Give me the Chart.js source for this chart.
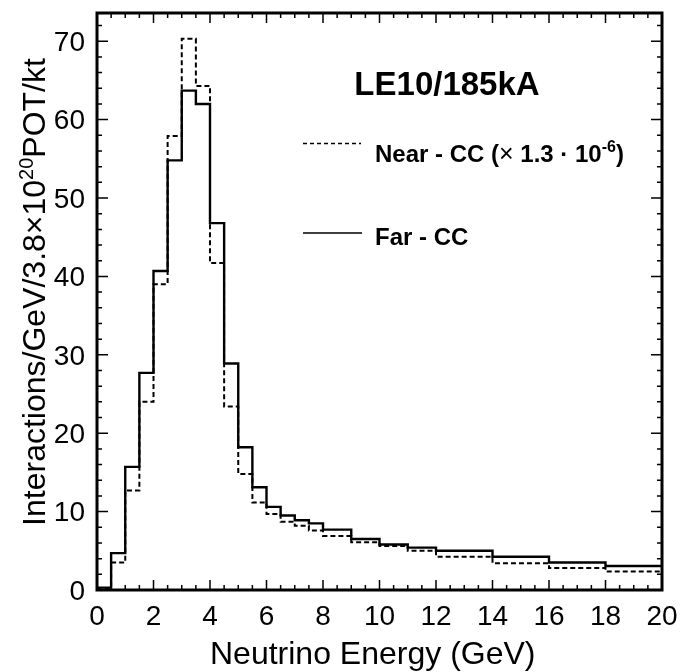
<!DOCTYPE html>
<html>
<head>
<meta charset="utf-8">
<script src="https://cdn.jsdelivr.net/npm/chart.js@4/dist/chart.umd.min.js"></script>
<style>
  body { margin: 0; background: #fff; }
  #wrap { width: 682px; height: 672px; }
</style>
</head>
<body>
<div id="wrap"><canvas id="spec" width="682" height="672"></canvas></div>
<script>
// bin edges in GeV (variable width bins)
const binEdges = [0, 0.5, 1, 1.5, 2, 2.5, 3, 3.5, 4, 4.5, 5, 5.5, 6, 6.5, 7, 7.5, 8, 9, 10, 11, 12, 14, 16, 18, 20];
// interactions per bin
const farCC = [0.3, 4.7, 15.7, 27.7, 40.7, 54.8, 63.7, 62.0, 46.8, 28.9, 18.2, 13.1, 10.6, 9.5, 8.9, 8.5, 7.7, 6.5, 5.8, 5.4, 5.0, 4.25, 3.5, 3.06];
const nearCC = [0.2, 3.5, 12.7, 24.0, 39.0, 57.9, 70.3, 64.3, 41.7, 23.4, 14.8, 11.15, 9.7, 8.7, 8.2, 7.6, 6.9, 6.1, 5.6, 5.0, 4.25, 3.4, 2.8, 2.35];
// axis ticks
const xTickLabels = [0, 2, 4, 6, 8, 10, 12, 14, 16, 18, 20];
const yTickLabels = [0, 10, 20, 30, 40, 50, 60, 70];
const xMinorStep = 0.5;
const yMinorStep = 2;
const yTop = 73.6;

const FONT = '"Liberation Sans", Arial, Helvetica, sans-serif';

// histogram outline: one point on each left edge, plus the last right edge
function toSteps(vals) {
  const pts = vals.map((v, i) => ({ x: binEdges[i], y: v }));
  pts.push({ x: binEdges[binEdges.length - 1], y: vals[vals.length - 1] });
  return pts;
}

// draws text pieces [text, font, yOffset] one after another
function drawPieces(ctx, pieces, x0, y0) {
  let x = x0;
  pieces.forEach(([t, f, dy]) => {
    ctx.font = f;
    ctx.fillText(t, x, y0 + dy);
    x += ctx.measureText(t).width;
  });
  return x - x0;
}
function piecesWidth(ctx, pieces) {
  let w = 0;
  pieces.forEach(([t, f]) => { ctx.font = f; w += ctx.measureText(t).width; });
  return w;
}

const frame = {
  id: "frame",
  afterDraw(chart) {
    const { ctx, chartArea: a, scales: { x, y } } = chart;
    ctx.save();
    ctx.strokeStyle = "#000";
    ctx.fillStyle = "#000";

    // inward ticks on all four sides
    ctx.lineWidth = 1.5;
    ctx.beginPath();
    for (let v = x.min; v <= x.max + 1e-6; v += xMinorStep) {
      const px = x.getPixelForValue(v);
      const len = xTickLabels.includes(Math.round(v * 10) / 10) ? 10 : 5;
      ctx.moveTo(px, a.bottom); ctx.lineTo(px, a.bottom - len);
      ctx.moveTo(px, a.top); ctx.lineTo(px, a.top + len);
    }
    for (let v = 0; v <= yTop; v += yMinorStep) {
      const py = y.getPixelForValue(v);
      const len = yTickLabels.includes(v) ? 11 : 5;
      ctx.moveTo(a.left, py); ctx.lineTo(a.left + len, py);
      ctx.moveTo(a.right, py); ctx.lineTo(a.right - len, py);
    }
    ctx.stroke();

    ctx.lineWidth = 3;
    ctx.strokeRect(a.left, a.top, a.right - a.left, a.bottom - a.top);

    // label in the plot
    ctx.textBaseline = "alphabetic";
    ctx.textAlign = "center";
    ctx.font = "bold 33px " + FONT;
    ctx.fillText("LE10/185kA", 447, 95);

    // legend
    ctx.textAlign = "left";
    ctx.lineWidth = 1.4;
    ctx.setLineDash([4, 3]);
    ctx.beginPath();
    ctx.moveTo(303, 143.5); ctx.lineTo(361, 143.5);
    ctx.stroke();
    ctx.setLineDash([]);
    ctx.lineWidth = 1.6;
    ctx.beginPath();
    ctx.moveTo(303, 233); ctx.lineTo(362, 233);
    ctx.stroke();

    const b24 = "bold 24px " + FONT;
    drawPieces(ctx, [
      ["Near - CC (", b24, 0],
      ["\u00d7", "25px " + FONT, 0],
      [" 1.3 \u00b7 10", b24, 0],
      ["-6", "bold 16px " + FONT, -10],
      [")", b24, 0]
    ], 375, 162);
    ctx.font = b24;
    ctx.fillText("Far - CC", 375, 245);

    // axis titles
    ctx.font = "32px " + FONT;
    ctx.fillText("Neutrino Energy (GeV)", 210, 664);

    const yTitle = [
      ["Interactions/GeV/3.8\u00d710", "32px " + FONT, 0],
      ["20", "20px " + FONT, -12],
      ["POT/kt", "32px " + FONT, 0]
    ];
    ctx.translate(45, 292);
    ctx.rotate(-Math.PI / 2);
    drawPieces(ctx, yTitle, -piecesWidth(ctx, yTitle) / 2, 0);
    ctx.restore();
  }
};

new Chart(document.getElementById("spec"), {
  type: "line",
  data: {
    datasets: [
      {
        label: "Far - CC",
        data: toSteps(farCC),
        stepped: "before",
        borderColor: "#000",
        borderWidth: 2.4,
        pointRadius: 0,
        fill: false,
        order: 0
      },
      {
        label: "Near - CC",
        data: toSteps(nearCC),
        stepped: "before",
        borderColor: "#000",
        borderWidth: 2,
        borderDash: [5, 3],
        pointRadius: 0,
        fill: false,
        order: 1
      }
    ]
  },
  options: {
    responsive: false,
    animation: false,
    layout: { padding: { top: 13, right: 20, left: 0, bottom: 0 } },
    plugins: {
      legend: { display: false },
      tooltip: { enabled: false }
    },
    scales: {
      x: {
        type: "linear",
        min: xTickLabels[0],
        max: xTickLabels[xTickLabels.length - 1],
        afterFit: s => { s.height = 82; s.paddingLeft = 0; s.paddingRight = 0; },
        afterBuildTicks: s => { s.ticks = xTickLabels.map(v => ({ value: v })); },
        ticks: {
          color: "#000",
          font: { family: FONT, size: 28 },
          padding: 10,
          maxRotation: 0
        },
        grid: { display: false, drawTicks: false },
        border: { display: false }
      },
      y: {
        type: "linear",
        min: 0,
        max: yTop,
        afterFit: s => { s.width = 97; s.paddingTop = 0; s.paddingBottom = 0; },
        afterBuildTicks: s => { s.ticks = yTickLabels.map(v => ({ value: v })); },
        ticks: {
          color: "#000",
          font: { family: FONT, size: 28 },
          padding: 12,
          labelOffset: 2
        },
        grid: { display: false, drawTicks: false },
        border: { display: false }
      }
    }
  },
  plugins: [frame]
});
</script>
</body>
</html>
